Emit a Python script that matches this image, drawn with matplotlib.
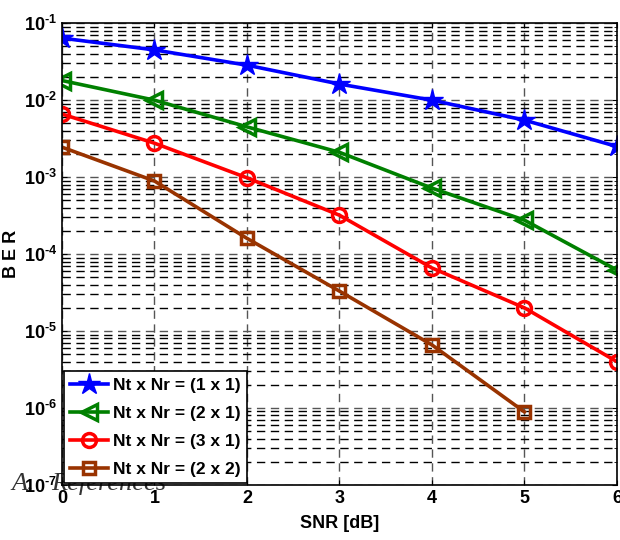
import numpy as np
import matplotlib
matplotlib.use('Agg')
import matplotlib.pyplot as plt
from matplotlib.ticker import LogLocator, NullFormatter, FuncFormatter

plt.rcParams['font.family'] = ['Liberation Sans', 'DejaVu Sans']
plt.rcParams['font.weight'] = 'bold'
plt.rcParams['mathtext.fontset'] = 'custom'
plt.rcParams['mathtext.rm'] = 'Liberation Sans:bold'
plt.rcParams['mathtext.bf'] = 'Liberation Sans:bold'
plt.rcParams['mathtext.default'] = 'bf'

# SNR points and BER
snr = [0, 1, 2, 3, 4, 5, 6]
ber_1x1 = [0.064, 0.045, 0.0285, 0.0162, 0.010, 0.0055, 0.0025]
ber_2x1 = [0.018, 0.010, 0.0045, 0.0021, 0.00072, 0.000276, 6.2e-5]
ber_3x1 = [0.0066, 0.00276, 0.00098, 0.00032, 6.6e-5, 2.0e-5, 4.0e-6]
snr_2x2 = [0, 1, 2, 3, 4, 5]
ber_2x2 = [0.00245, 0.00089, 0.00016, 3.3e-5, 6.6e-6, 8.9e-7]

labels = ['Nt x Nr = (1 x 1)', 'Nt x Nr = (2 x 1)',
          'Nt x Nr = (3 x 1)', 'Nt x Nr = (2 x 2)']

fig = plt.figure(figsize=(6.2, 5.4), dpi=100)
ax = fig.add_axes([0.1, 0.102, 0.895, 0.855])
ax.patch.set_alpha(0)

lw = 2.6
ax.semilogy(snr, ber_1x1, color='#0000ff', lw=lw, marker='*', ms=16, label=labels[0])
ax.semilogy(snr, ber_2x1, color='#008000', lw=lw, marker='<', ms=12, mfc='none',
            mew=2.5, label=labels[1])
ax.semilogy(snr, ber_3x1, color='#ff0000', lw=lw, marker='o', ms=10, mfc='none',
            mew=2.5, label=labels[2])
ax.semilogy(snr_2x2, ber_2x2, color='#993300', lw=lw, marker='s', ms=9, mfc='none',
            mew=2.5, label=labels[3])

ax.set_xlim(0, 6)
ax.set_ylim(1e-7, 1e-1)
ax.set_xticks(snr)
ax.yaxis.set_major_locator(LogLocator(base=10, numticks=10))
ax.yaxis.set_minor_locator(LogLocator(base=10, subs=np.arange(2, 10), numticks=10))
ax.yaxis.set_minor_formatter(NullFormatter())
ax.yaxis.set_major_formatter(FuncFormatter(
    lambda v, p: r'$10^{\text{-%d}}$' % round(-np.log10(v))))

ax.grid(which='major', color='#555555', ls=(0, (6, 4)), lw=1.0)
ax.grid(which='minor', axis='y', color='black', ls=(0, (6, 4)), lw=1.0)
ax.tick_params(direction='in', which='both', labelsize=13, top=True, right=True)
for lab in ax.get_xticklabels() + ax.get_yticklabels():
    lab.set_fontweight('bold')
for s in ax.spines.values():
    s.set_linewidth(1.2)

ax.set_xlabel('SNR [dB]', fontsize=13, fontweight='bold', labelpad=6)
ax.set_ylabel('B E R', fontsize=13, fontweight='bold')
ax.yaxis.set_label_coords(-0.075, 0.5)

leg = ax.legend(loc='lower left', prop={'weight': 'bold', 'size': 12.5},
                fancybox=False, edgecolor='black', framealpha=1,
                borderaxespad=0.1, handlelength=2.2, handletextpad=0.3,
                labelspacing=0.75, borderpad=0.35)
leg.get_frame().set_linewidth(1.2)

serif = ['Liberation Serif', 'DejaVu Serif']
fig.text(0.019, 0.092, 'A.', family=serif, style='italic', fontweight='normal',
         fontsize=19, color='#333333', zorder=-1)
fig.text(0.083, 0.092, 'References', family=serif, style='italic',
         fontweight='normal', fontsize=19, color='#333333', zorder=-1)

fig.savefig('out.png', dpi=100)
